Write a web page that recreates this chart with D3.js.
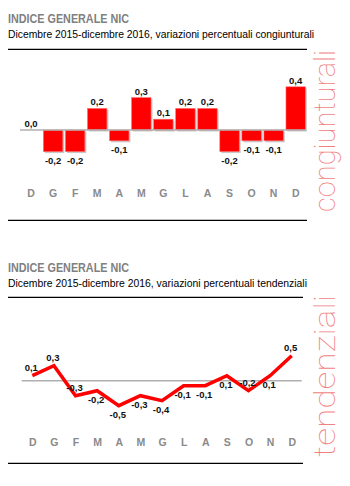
<!DOCTYPE html>
<html><head><meta charset="utf-8">
<script src="https://cdn.jsdelivr.net/npm/d3@7"></script>
<style>
html,body{margin:0;padding:0;background:#fff;}
svg{display:block;}
</style></head>
<body>
<script>
const months = ["D","G","F","M","A","M","G","L","A","S","O","N","D"];
const congValues = [0.0,-0.2,-0.2,0.2,-0.1,0.3,0.1,0.2,0.2,-0.2,-0.1,-0.1,0.4];
const tendValues = [0.1,0.3,-0.3,-0.2,-0.5,-0.3,-0.4,-0.1,-0.1,0.1,-0.2,0.1,0.5];
const tendLabelPlace = ["a","a","a","b","b","b","b","b","b","b","a","b","a"];
const title = "INDICE GENERALE NIC";
const sub1 = "Dicembre 2015-dicembre 2016, variazioni percentuali congiunturali";
const sub2 = "Dicembre 2015-dicembre 2016, variazioni percentuali tendenziali";
const side1 = "congiunturali";
const side2 = "tendenziali";

const fmt = v => d3.format(".1f")(v).replace(".", ",").replace("−","-");
const narrow = "'Liberation Sans Narrow','Arial Narrow','Liberation Sans',Arial,sans-serif";

const svg = d3.select("body").append("svg").attr("width",350).attr("height",486);

function header(y0, sub, subLen){
  svg.append("text").attr("x",8).attr("y",y0).text(title)
    .attr("font-family",narrow).attr("font-weight","bold").attr("font-size",12.5)
    .attr("fill","#808080").attr("textLength",121).attr("lengthAdjust","spacingAndGlyphs");
  svg.append("text").attr("x",8).attr("y",y0+15).text(sub)
    .attr("font-family",narrow).attr("font-size",11.5)
    .attr("fill","#000").attr("textLength",subLen).attr("lengthAdjust","spacingAndGlyphs");
}
function hline(y, x1, x2){
  svg.append("line").attr("x1",x1).attr("x2",x2).attr("y1",y).attr("y2",y)
    .attr("stroke","#000").attr("stroke-width",1.3);
}
function sideText(txt, cx, cy, len){
  svg.append("text").attr("transform",`translate(${cx},${cy}) rotate(-90)`)
    .attr("text-anchor","middle").text(txt)
    .attr("font-family","Roboto,'Open Sans',Lato,sans-serif").attr("font-weight",100)
    .attr("font-size",30).attr("fill","#f07f7f")
    .attr("textLength",len).attr("lengthAdjust","spacingAndGlyphs");
}

// ---------- Chart 1: bars ----------
header(22.5, sub1, 306);
hline(49.3, 8, 307);
hline(220.3, 8, 307);
sideText(side1, 335, 131, 162);

const x1 = d3.scaleBand().domain(d3.range(months.length)).range([20,306.7]).paddingInner(0.12).paddingOuter(0.06);
const y1 = d3.scaleLinear().domain([-0.5,0.5]).range([184,76]);

const g1 = svg.append("g");
g1.selectAll("rect.sh").data(congValues).join("rect").attr("class","sh")
  .attr("x",(d,i)=>x1(i)+1.5).attr("width",x1.bandwidth())
  .attr("y",d=>Math.min(y1(d),y1(0))+1.5).attr("height",d=>Math.abs(y1(d)-y1(0)))
  .attr("fill","#c8c8c8");
g1.selectAll("rect.bar").data(congValues).join("rect").attr("class","bar")
  .attr("x",(d,i)=>x1(i)).attr("width",x1.bandwidth())
  .attr("y",d=>Math.min(y1(d),y1(0))).attr("height",d=>Math.abs(y1(d)-y1(0)))
  .attr("fill","#ff0000").attr("stroke","#ff7070").attr("stroke-width",0.6);
svg.append("line").attr("x1",20).attr("x2",306).attr("y1",y1(0)).attr("y2",y1(0))
  .attr("stroke","#b0b0b0").attr("stroke-width",1.6);
g1.selectAll("text.lab").data(congValues).join("text").attr("class","lab")
  .attr("x",(d,i)=>x1(i)+x1.bandwidth()/2)
  .attr("y",d=> d>=0 ? y1(d)-3 : y1(d)+12)
  .attr("text-anchor","middle").text(d=>fmt(d))
  .attr("font-family",narrow).attr("font-weight","bold").attr("font-size",9.5).attr("fill","#111");
const ax1 = d3.axisBottom(x1).tickFormat(i=>months[i]).tickSize(0).tickPadding(0);
const axg1 = svg.append("g").attr("transform","translate(0,190)").call(ax1);
axg1.select(".domain").remove();
axg1.selectAll("text").attr("font-family",narrow).attr("font-weight","bold")
  .attr("font-size",10.5).attr("fill","#8a8a8a");

// ---------- Chart 2: line ----------
header(271.5, sub2, 299);
hline(297.3, 8, 303);
hline(463.3, 8, 303);
sideText(side2, 335, 376, 162);

const x2 = d3.scalePoint().domain(d3.range(months.length)).range([32.3,291.7]);
const y2 = d3.scaleLinear().domain([-0.6,0.6]).range([410.7,350.7]);
svg.append("line").attr("x1",21.7).attr("x2",301.7).attr("y1",y2(0)).attr("y2",y2(0))
  .attr("stroke","#b0b0b0").attr("stroke-width",1.6);
svg.append("path").datum(tendValues)
  .attr("d",d3.line().x((d,i)=>x2(i)).y(d=>y2(d)))
  .attr("fill","none").attr("stroke","#ff0000").attr("stroke-width",3.5)
  .attr("stroke-linejoin","miter");
svg.append("g").selectAll("text").data(tendValues).join("text")
  .attr("x",(d,i)=>x2(i)-1)
  .attr("y",(d,i)=> tendLabelPlace[i]==="a" ? y2(d)-5 : y2(d)+12)
  .attr("text-anchor","middle").text(d=>fmt(d))
  .attr("font-family",narrow).attr("font-weight","bold").attr("font-size",9.5).attr("fill","#111");
const ax2 = d3.axisBottom(x2).tickFormat(i=>months[i]).tickSize(0).tickPadding(0);
const axg2 = svg.append("g").attr("transform","translate(0,438.5)").call(ax2);
axg2.select(".domain").remove();
axg2.selectAll("text").attr("font-family",narrow).attr("font-weight","bold")
  .attr("font-size",10.5).attr("fill","#8a8a8a");
</script>
</body></html>
